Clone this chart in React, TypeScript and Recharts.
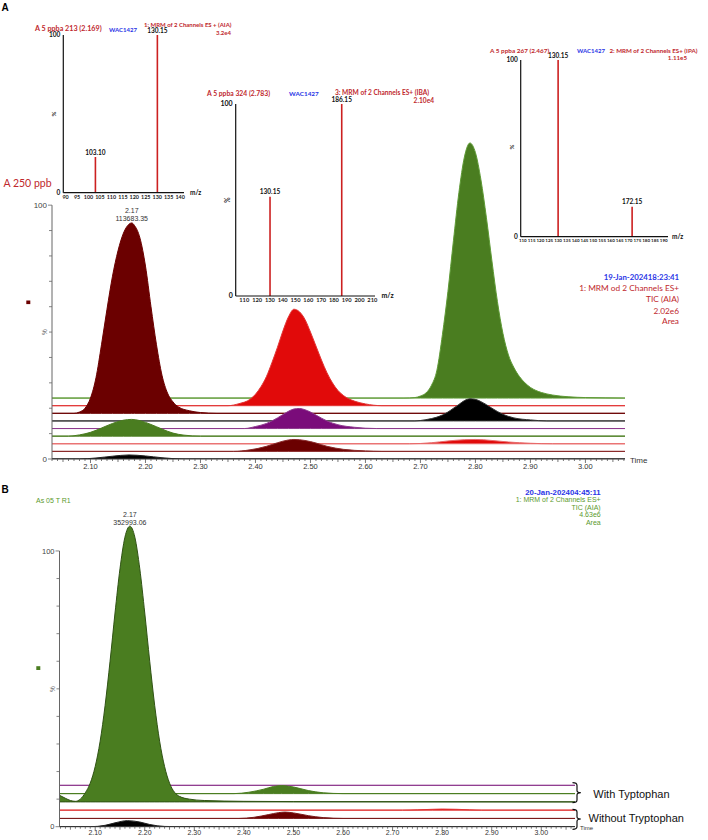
import React from 'react';
import { ComposedChart, Area, Bar, XAxis, YAxis, ReferenceLine, ReferenceDot, LabelList } from 'recharts';

type Pt = [number, number];

// ---------------- Panel A chromatogram traces: [retention time (min), intensity %] ----------------
const aIbaGreen: Pt[] = [[2.03,0],[2.67,0],[2.69,0.2],[2.70,0.8],[2.71,2],[2.72,5],[2.73,11],[2.74,25],[2.75,42],[2.76,62],[2.77,81],[2.78,95],[2.79,100.5],[2.80,96.7],[2.81,86],[2.82,71],[2.83,54],[2.84,38],[2.85,25.5],[2.86,17],[2.87,12],[2.88,8.5],[2.89,6],[2.90,4.2],[2.91,3],[2.92,2.2],[2.94,1.2],[2.97,0.5],[3.00,0.2],[3.072,0]];
const aIpaRed: Pt[] = [[2.03,0],[2.35,0],[2.37,0.8],[2.39,2.5],[2.40,4.5],[2.41,7.5],[2.42,11.5],[2.43,17],[2.44,23],[2.45,29.5],[2.46,35],[2.47,38],[2.48,37],[2.49,34],[2.50,29],[2.51,23.5],[2.52,18],[2.53,13],[2.54,9],[2.55,6],[2.56,4],[2.58,1.8],[2.60,0.7],[2.63,0],[3.072,0]];
const aAiaMaroon: Pt[] = [[2.03,0],[2.07,0],[2.08,0.5],[2.09,2],[2.10,6],[2.11,14],[2.12,27],[2.13,41],[2.14,54],[2.15,64],[2.16,71],[2.17,74.5],[2.175,75],[2.18,74],[2.19,69],[2.20,58],[2.21,42],[2.22,27],[2.23,15],[2.24,8],[2.25,4.5],[2.26,2.5],[2.28,1],[2.30,0.3],[2.33,0],[3.072,0]];
const aIbaBlack: Pt[] = [[2.03,0],[2.69,0],[2.71,0.5],[2.73,1.5],[2.75,3.5],[2.76,5],[2.77,6.5],[2.78,8],[2.79,8.7],[2.80,8.5],[2.81,7.6],[2.82,6.4],[2.83,5],[2.84,3.7],[2.85,2.6],[2.87,1.2],[2.90,0.4],[2.93,0],[3.072,0]];
const aIpaPurple: Pt[] = [[2.03,0],[2.38,0],[2.40,0.8],[2.42,2],[2.44,4.2],[2.45,5.5],[2.46,6.8],[2.47,7.7],[2.48,7.9],[2.49,7.4],[2.50,6.5],[2.51,5.3],[2.52,4.1],[2.53,3],[2.55,1.5],[2.58,0.5],[2.62,0],[3.072,0]];
const aAiaGreen: Pt[] = [[2.03,0],[2.06,0],[2.08,0.5],[2.10,1.5],[2.12,3.2],[2.14,5],[2.16,6.3],[2.175,6.6],[2.19,6.1],[2.21,4.6],[2.23,2.8],[2.25,1.2],[2.27,0.4],[2.30,0],[3.072,0]];
const aIbaRed: Pt[] = [[2.03,0],[2.68,0],[2.72,0.4],[2.75,1.1],[2.78,1.6],[2.80,1.7],[2.83,1.3],[2.86,0.7],[2.90,0.2],[2.94,0],[3.072,0]];
const aIpaMaroon: Pt[] = [[2.03,0],[2.36,0],[2.39,0.6],[2.42,2],[2.44,3.4],[2.46,4.5],[2.47,4.7],[2.49,4.3],[2.51,3.3],[2.53,2],[2.56,0.8],[2.60,0.2],[2.63,0],[3.072,0]];
const aAiaBlack: Pt[] = [[2.03,0],[2.08,0],[2.11,0.4],[2.14,1.1],[2.17,1.6],[2.20,1.2],[2.23,0.5],[2.27,0],[3.072,0]];

// ---------------- Panel B chromatogram traces ----------------
const bPurple: Pt[] = [[2.028,0],[3.068,0]];
const bGreenSmall: Pt[] = [[2.028,0],[2.38,0],[2.41,0.5],[2.44,1.6],[2.46,2.6],[2.476,2.9],[2.50,2.4],[2.53,1.1],[2.56,0.3],[2.60,0],[3.068,0]];
const bGreenMain: Pt[] = [[2.028,2.4],[2.04,1.3],[2.05,0.5],[2.06,0.2],[2.07,1],[2.08,3.3],[2.09,6.8],[2.10,12.8],[2.11,22],[2.12,35],[2.13,51],[2.14,68.5],[2.15,84.5],[2.16,96],[2.17,100],[2.18,96],[2.19,84.5],[2.20,68.5],[2.21,51],[2.22,35],[2.23,22],[2.24,12.8],[2.25,6.8],[2.26,3.5],[2.27,2],[2.29,1],[2.32,0.5],[2.40,0.2],[2.50,0.1],[3.068,0]];
const bRed: Pt[] = [[2.028,0],[2.72,0],[2.78,0.3],[2.80,0.4],[2.83,0.3],[2.88,0],[3.068,0]];
const bMaroon: Pt[] = [[2.028,0],[2.39,0],[2.42,0.4],[2.45,1.4],[2.47,2.1],[2.483,2.3],[2.50,2],[2.53,1],[2.56,0.3],[2.60,0],[3.068,0]];
const bBlack: Pt[] = [[2.028,0],[2.09,0],[2.12,0.5],[2.14,1.4],[2.165,2.2],[2.19,1.7],[2.21,0.8],[2.24,0.1],[2.27,0],[3.068,0]];

// ---------------- Spectra insets: m/z and relative abundance % ----------------
const spec213 = [{ mz: 103.10, pct: 22.6 }, { mz: 130.15, pct: 100 }];
const spec324 = [{ mz: 130.15, pct: 51.7 }, { mz: 186.15, pct: 100 }];
const spec267 = [{ mz: 130.15, pct: 100 }, { mz: 172.15, pct: 17 }];

const ins1Ticks = [90, 95, 100, 105, 110, 115, 120, 125, 130, 135, 140];
const ins2Ticks = [110, 120, 130, 140, 150, 160, 170, 180, 190, 200, 210];
const ins3Ticks = [110, 115, 120, 125, 130, 135, 140, 145, 150, 155, 160, 165, 170, 175, 180, 185, 190];

const timeLabels = ['2.10', '2.20', '2.30', '2.40', '2.50', '2.60', '2.70', '2.80', '2.90', '3.00'];
const pctTicks = [0, 10, 20, 30, 40, 50, 60, 70, 80, 90, 100];
const peakA = { rt: '2.17', area: '113683.35' };
const peakB = { rt: '2.17', area: '352993.06' };

// ---------------- styles ----------------
const MAROON = '#6b0000';
const RED = '#e10a0a';
const GREEN = '#4a7d20';
const PURPLE = '#7a0c7a';
const BLACK = '#000000';
const TXT_RED = '#c0282d';
const TXT_BLUE = '#2a35e6';
const ARIAL = 'Liberation Sans, Arial, sans-serif';
const CAL = 'Lato, sans-serif';

const A_TRACES = [
  { data: aIbaGreen, offset: 24, fill: GREEN, stroke: '#5e9a35' },
  { data: aIpaRed, offset: 21, fill: RED, stroke: '#e23535' },
  { data: aAiaMaroon, offset: 18, fill: MAROON, stroke: MAROON },
  { data: aIbaBlack, offset: 15, fill: BLACK, stroke: '#333' },
  { data: aIpaPurple, offset: 12, fill: PURPLE, stroke: '#8e3a8e' },
  { data: aAiaGreen, offset: 9, fill: GREEN, stroke: GREEN },
  { data: aIbaRed, offset: 6, fill: RED, stroke: '#e86a6a' },
  { data: aIpaMaroon, offset: 3, fill: MAROON, stroke: '#8a2a2a' },
  { data: aAiaBlack, offset: 0, fill: BLACK, stroke: '#222' },
];
const B_TRACES = [
  { data: bPurple, offset: 15, fill: PURPLE, stroke: '#8e3a8e' },
  { data: bGreenSmall, offset: 12, fill: GREEN, stroke: GREEN },
  { data: bGreenMain, offset: 9, fill: GREEN, stroke: '#2f5214' },
  { data: bRed, offset: 6, fill: RED, stroke: '#e23535' },
  { data: bMaroon, offset: 3, fill: MAROON, stroke: '#7a1a1a' },
  { data: bBlack, offset: 0, fill: BLACK, stroke: '#222' },
];

const minorTicks = (from: number, to: number) => {
  const out: number[] = [];
  for (let i = Math.round(from * 100); i <= Math.round(to * 100); i++) out.push(i / 100);
  return out;
};
const ticksA = minorTicks(2.03, 3.07);
const ticksB = minorTicks(2.03, 3.06);

const apex = (d: Pt[], off: number) => {
  let best = d[0];
  d.forEach((p) => { if (p[1] > best[1]) best = p; });
  return { x: best[0], y: best[1] + off };
};

const TimeTick = (props: any) => {
  const { x, y, payload, fs, dyLabel } = props;
  const v = Number(payload.value);
  const lbl = v.toFixed(2);
  const major = timeLabels.includes(lbl);
  const mid = !major && Math.round(v * 100) % 5 === 0;
  return (
    <g>
      <line x1={x} x2={x} y1={y} y2={y + (major ? 4 : mid ? 3 : 2)} stroke="#555" strokeWidth={0.8} />
      {major && (
        <text x={x} y={y + dyLabel} textAnchor="middle" fontSize={fs} fill="#333" fontFamily={ARIAL}>{lbl}</text>
      )}
    </g>
  );
};

const PctTick = (props: any) => {
  const { x, y, payload, fs } = props;
  const v = Number(payload.value);
  const major = v === 0 || v === 100;
  return (
    <g>
      <line x1={x} x2={x - (major ? 4 : 3)} y1={y} y2={y} stroke="#666" strokeWidth={0.8} />
      {major && (
        <text x={x - 5} y={y} dy="0.35em" textAnchor="end" fontSize={fs} fill="#444" fontFamily={ARIAL}>{v}</text>
      )}
    </g>
  );
};

const PeakLabel = (props: any) => {
  const { viewBox, rt, area, fs, d1, d2 } = props;
  const x = viewBox.x + (viewBox.width || 0) / 2;
  const y = viewBox.y + (viewBox.height || 0) / 2;
  return (
    <g fontFamily={ARIAL} fontSize={fs} fill="#333" textAnchor="middle">
      <text x={x} y={y + d1}>{rt}</text>
      <text x={x} y={y + d2}>{area}</text>
    </g>
  );
};

const MzLabel = (props: any) => {
  const { x, y, width, value } = props;
  return (
    <text x={x + width / 2} y={y - 2.5} textAnchor="middle" fontSize={6.5} fontWeight={700} fill="#111" fontFamily={CAL}>
      {Number(value).toFixed(2)}
    </text>
  );
};

const abs = (l: number, t: number): React.CSSProperties => ({ position: 'absolute', left: l, top: t });

const Chromatogram = ({ traces, width, height, margin, xDomain, yMax, ticks, tickFs, dyLabel, yFs, peak, labelD }: any) => {
  const top = apex(traces.find((t: any) => t.offset === peak.offset).data, peak.offset);
  return (
    <ComposedChart width={width} height={height} margin={margin}>
      <XAxis type="number" dataKey={(d: Pt) => d[0]} domain={xDomain} allowDataOverflow ticks={ticks} interval={0}
        tickSize={0} tickMargin={0} height={margin.xh} axisLine={{ stroke: '#333', strokeWidth: 1 }}
        tick={<TimeTick fs={tickFs} dyLabel={dyLabel} />} />
      <YAxis type="number" domain={[0, yMax]} allowDataOverflow ticks={pctTicks} interval={0} tickSize={0} tickMargin={0}
        width={24} axisLine={false} tick={<PctTick fs={yFs} />} />
      {traces.map((t: any, i: number) => (
        <Area key={i} data={t.data} dataKey={(d: Pt) => [t.offset, t.offset + d[1]]} type="monotone"
          fill={t.fill} fillOpacity={1} stroke={t.stroke} strokeWidth={1} dot={false} activeDot={false}
          isAnimationActive={false} />
      ))}
      <ReferenceLine segment={[{ x: xDomain[0], y: 0 }, { x: xDomain[0], y: 100 }]} stroke="#666" strokeWidth={1} />
      <ReferenceDot x={top.x} y={top.y} r={0} fill="none" stroke="none"
        label={<PeakLabel rt={peak.rt} area={peak.area} fs={7} d1={labelD[0]} d2={labelD[1]} />} />
    </ComposedChart>
  );
};

const Spectrum = ({ data, width, height, margin, domain, ticks, xFs, yFs }: any) => (
  <ComposedChart data={data} width={width} height={height} margin={margin}>
    <XAxis type="number" dataKey="mz" domain={domain} allowDataOverflow ticks={ticks} interval={0} tickLine={false}
      tickSize={0} tickMargin={2} height={10} axisLine={{ stroke: '#111', strokeWidth: 1.2 }}
      tick={{ fontSize: xFs, fontWeight: 700, fill: '#222', fontFamily: CAL }} />
    <YAxis type="number" domain={[0, 100]} ticks={[0, 100]} interval={0} tickLine={false} tickSize={0} tickMargin={3}
      width={20} axisLine={{ stroke: '#111', strokeWidth: 1.2 }}
      tick={{ fontSize: yFs, fontWeight: 700, fill: '#111', fontFamily: CAL }} />
    <Bar dataKey="pct" fill="#cc2020" barSize={1.6} isAnimationActive={false}>
      <LabelList dataKey="mz" content={<MzLabel />} />
    </Bar>
  </ComposedChart>
);

const T = (p: any) => <text fontFamily={CAL} {...p} />;

export default function App() {
  return (
    <div style={{ position: 'absolute', left: 0, top: 0, width: 708, height: 840, background: '#fff', overflow: 'hidden' }}>
      <div style={abs(0, 0)}>
        <Chromatogram traces={A_TRACES} width={708} height={480}
          margin={{ top: 129, right: 83, bottom: 1, left: 28, xh: 20 }} xDomain={[2.03, 3.072]} yMax={130}
          ticks={ticksA} tickFs={7.5} dyLabel={9.5} yFs={8} peak={{ ...peakA, offset: 18 }} labelD={[-10, -2]} />
      </div>
      <div style={abs(0, 480)}>
        <Chromatogram traces={B_TRACES} width={708} height={360}
          margin={{ top: 29.6, right: 133, bottom: 0.3, left: 35.5, xh: 13 }} xDomain={[2.028, 3.068]} yMax={115}
          ticks={ticksB} tickFs={7} dyLabel={8.5} yFs={7.5} peak={{ ...peakB, offset: 9 }} labelD={[-9.5, -1.5]} />
      </div>
      <div style={abs(0, 0)}>
        <Spectrum data={spec213} width={240} height={205} margin={{ top: 35, right: 56, bottom: 2.3, left: 43.3 }}
          domain={[89, 141.7]} ticks={ins1Ticks} xFs={5.4} yFs={6.5} />
      </div>
      <div style={abs(190, 85)}>
        <Spectrum data={spec324} width={220} height={223} margin={{ top: 19, right: 35, bottom: 2, left: 25.7 }}
          domain={[103.3, 212.1]} ticks={ins2Ticks} xFs={5.7} yFs={7} />
      </div>
      <div style={abs(490, 40)}>
        <Spectrum data={spec267} width={218} height={208} margin={{ top: 20, right: 40, bottom: 1.3, left: 10.7 }}
          domain={[108.8, 192.4]} ticks={ins3Ticks} xFs={4.5} yFs={6.5} />
      </div>

      <svg width={708} height={840} style={{ ...abs(0, 0), pointerEvents: 'none' }}>
        {/* Panel letters */}
        <text x={1.5} y={10.7} fontFamily={ARIAL} fontWeight={700} fontSize={10}>A</text>
        <text x={1.5} y={493.3} fontFamily={ARIAL} fontWeight={700} fontSize={10}>B</text>

        {/* Inset 1 */}
        <T x={35} y={30.5} fontSize={7.2} fontWeight={700} fill={TXT_RED}>A 5 ppba 213 (2.169)</T>
        <T x={109} y={31.5} fontSize={6} fontWeight={700} fill={TXT_BLUE}>WAC1427</T>
        <T x={144} y={27} fontSize={6} fontWeight={700} fill={TXT_RED}>1: MRM of 2 Channels ES + (AIA)</T>
        <T x={231} y={35} fontSize={6} fontWeight={700} fill={TXT_RED} textAnchor="end">3.2e4</T>
        <T x={54} y={114} fontSize={6} fontWeight={700} fill="#222" textAnchor="middle" transform="rotate(-90 54 114)" dy="0.35em">%</T>
        <T x={190} y={194.5} fontSize={6.5} fontWeight={700} fill="#111">m/z</T>

        {/* Inset 2 */}
        <T x={207} y={95.5} fontSize={6.8} fontWeight={700} fill={TXT_RED}>A 5 ppba 324 (2.783)</T>
        <T x={289} y={95.5} fontSize={6.4} fontWeight={700} fill={TXT_BLUE}>WAC1427</T>
        <T x={335} y={94.5} fontSize={6.6} fontWeight={700} fill={TXT_RED}>3: MRM of 2 Channels ES+ (IBA)</T>
        <T x={434} y={102.5} fontSize={6.6} fontWeight={700} fill={TXT_RED} textAnchor="end">2.10e4</T>
        <T x={228} y={200} fontSize={6.5} fontWeight={700} fill="#222" textAnchor="middle" transform="rotate(-90 228 200)" dy="0.35em">%</T>
        <T x={381.5} y={297.5} fontSize={7} fontWeight={700} fill="#111">m/z</T>

        {/* Inset 3 */}
        <T x={490} y={53} fontSize={6.4} fontWeight={700} fill={TXT_RED}>A 5 ppba 267 (2.467)</T>
        <T x={577} y={53} fontSize={6} fontWeight={700} fill={TXT_BLUE}>WAC1427</T>
        <T x={609.5} y={53} fontSize={6.2} fontWeight={700} fill={TXT_RED}>2: MRM of 2 Channels ES+ (IPA)</T>
        <T x={687} y={60} fontSize={6.2} fontWeight={700} fill={TXT_RED} textAnchor="end">1.11e5</T>
        <T x={511.5} y={147} fontSize={6} fontWeight={700} fill="#222" textAnchor="middle" transform="rotate(-90 511.5 147)" dy="0.35em">%</T>
        <T x={672} y={239} fontSize={6.5} fontWeight={700} fill="#111">m/z</T>

        {/* Panel A annotations */}
        <T x={3.5} y={187} fontSize={10.5} fill={TXT_RED}>A 250 ppb</T>
        <T x={679} y={279.5} fontSize={7.8} fontWeight={700} fill={TXT_BLUE} textAnchor="end">19-Jan-202418:23:41</T>
        <T x={679} y={291} fontSize={8.3} fill={TXT_RED} textAnchor="end">1: MRM od 2 Channels ES+</T>
        <T x={679} y={302} fontSize={8.3} fill={TXT_RED} textAnchor="end">TIC (AIA)</T>
        <T x={679} y={313.5} fontSize={8.3} fill={TXT_RED} textAnchor="end">2.02e6</T>
        <T x={679} y={324} fontSize={8.3} fill={TXT_RED} textAnchor="end">Area</T>
        <text x={630} y={463} fontFamily={ARIAL} fontSize={8} fill="#333">Time</text>
        <text x={45} y={332} fontFamily={ARIAL} fontSize={6.5} fill="#555" textAnchor="middle" transform="rotate(-90 45 332)" dy="0.35em">%</text>
        <rect x={26.3} y={300.5} width={4} height={3.6} fill={MAROON} />

        {/* Panel B annotations */}
        <text x={36} y={502.5} fontFamily={ARIAL} fontSize={7} fill="#5b9a2e">As 05 T R1</text>
        <text x={600.7} y={494.5} fontFamily={ARIAL} fontSize={7.8} fontWeight={700} fill={TXT_BLUE} textAnchor="end">20-Jan-202404:45:11</text>
        <g fontFamily={ARIAL} fontSize={7} fill="#5b9a2e" textAnchor="end">
          <text x={600.7} y={502}>1: MRM of 2 Channels ES+</text>
          <text x={600.7} y={509.7}>TIC (AIA)</text>
          <text x={600.7} y={517.4}>4.63e6</text>
          <text x={600.7} y={525.2}>Area</text>
        </g>
        <text x={580} y={830} fontFamily={ARIAL} fontSize={6} fill="#333">Time</text>
        <text x={53} y={689} fontFamily={ARIAL} fontSize={6.5} fill="#555" textAnchor="middle" transform="rotate(-90 53 689)" dy="0.35em">%</text>
        <rect x={36.3} y={666.2} width={4} height={3.8} fill={GREEN} />

        {/* Brackets */}
        <path d="M572.5 782.7 Q577 782.7 577 785.5 L577 790.5 Q577 792.7 580.8 792.7 Q577 792.7 577 795 L577 800 Q577 802.7 572.5 802.7"
          fill="none" stroke="#111" strokeWidth={1.2} />
        <path d="M572.5 809.3 Q577 809.3 577 812 L577 816.8 Q577 819 580.8 819 Q577 819 577 821.3 L577 826.5 Q577 829.3 572.5 829.3"
          fill="none" stroke="#111" strokeWidth={1.2} />
        <text x={593.3} y={798} fontFamily={ARIAL} fontSize={11} fill="#111">With Typtophan</text>
        <text x={588.5} y={822.3} fontFamily={ARIAL} fontSize={11} fill="#111">Without Tryptophan</text>
      </svg>
    </div>
  );
}
